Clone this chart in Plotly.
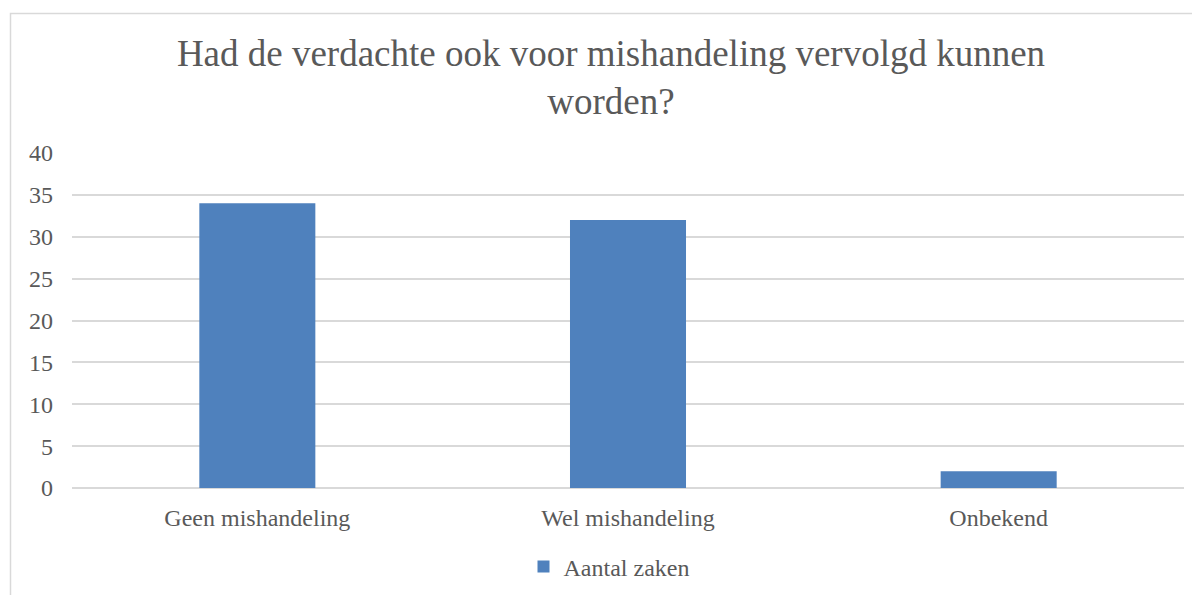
import plotly.graph_objects as go

categories = ["Geen mishandeling", "Wel mishandeling", "Onbekend"]
values = [34, 32, 2]
series_name = "Aantal zaken"
title_text = "Had de verdachte ook voor mishandeling vervolgd kunnen<br>worden?"
y_ticks = [0, 5, 10, 15, 20, 25, 30, 35, 40]

# page body has an 8px margin; compensate so the plot lands where intended
OFF = 8
W, H = 1200, 595
ml, mr, mt, mb = 72 - OFF, 24, 153 - OFF, 0
ph = 335
mb = H - mt - ph
pw = W - ml - mr

def px_to_paper_x(px):
    return (px - OFF - ml) / pw

def px_to_paper_y(py):
    return (H - mb - (py - OFF)) / ph

font_family = "Liberation Serif, Times New Roman, serif"
text_color = "#595959"
grid_color = "#d9d9d9"

fig = go.Figure()
fig.add_trace(go.Bar(
    x=categories, y=values, name=series_name,
    marker=dict(color="#4f81bd", line=dict(width=0)),
    showlegend=True,
))

fig.update_layout(
    width=W, height=H,
    margin=dict(l=ml, r=mr, t=mt, b=mb, autoexpand=False),
    paper_bgcolor="white", plot_bgcolor="white",
    font=dict(family=font_family, color=text_color, size=24),
    bargap=0.687,
    title=dict(
        text=title_text,
        font=dict(family=font_family, size=37, color=text_color),
        x=px_to_paper_x(611), xref="paper", xanchor="center",
        y=1 - (66 - OFF) / H, yref="container", yanchor="middle",
    ),
    legend=dict(
        orientation="h",
        x=px_to_paper_x(609), xanchor="center",
        y=px_to_paper_y(567), yanchor="middle",
        font=dict(family=font_family, size=24, color=text_color),
        itemwidth=30,
    ),
    xaxis=dict(
        showgrid=False, showline=False, ticks="",
        tickfont=dict(family=font_family, size=24, color=text_color),
        ticklabelstandoff=13,
    ),
    yaxis=dict(
        range=[0, 40], tickvals=y_ticks,
        showgrid=True, gridcolor=grid_color, gridwidth=1.5,
        zeroline=True, zerolinecolor=grid_color, zerolinewidth=1.5,
        showline=False, ticks="",
        tickfont=dict(family=font_family, size=24, color=text_color),
        ticklabelstandoff=18,
    ),
    shapes=[dict(
        type="rect", xref="paper", yref="paper",
        x0=px_to_paper_x(10.5), x1=px_to_paper_x(1260),
        y0=px_to_paper_y(700), y1=px_to_paper_y(13.5),
        line=dict(color=grid_color, width=1.5), fillcolor="rgba(0,0,0,0)",
        layer="below",
    )],
)

fig.write_html("out.html")
